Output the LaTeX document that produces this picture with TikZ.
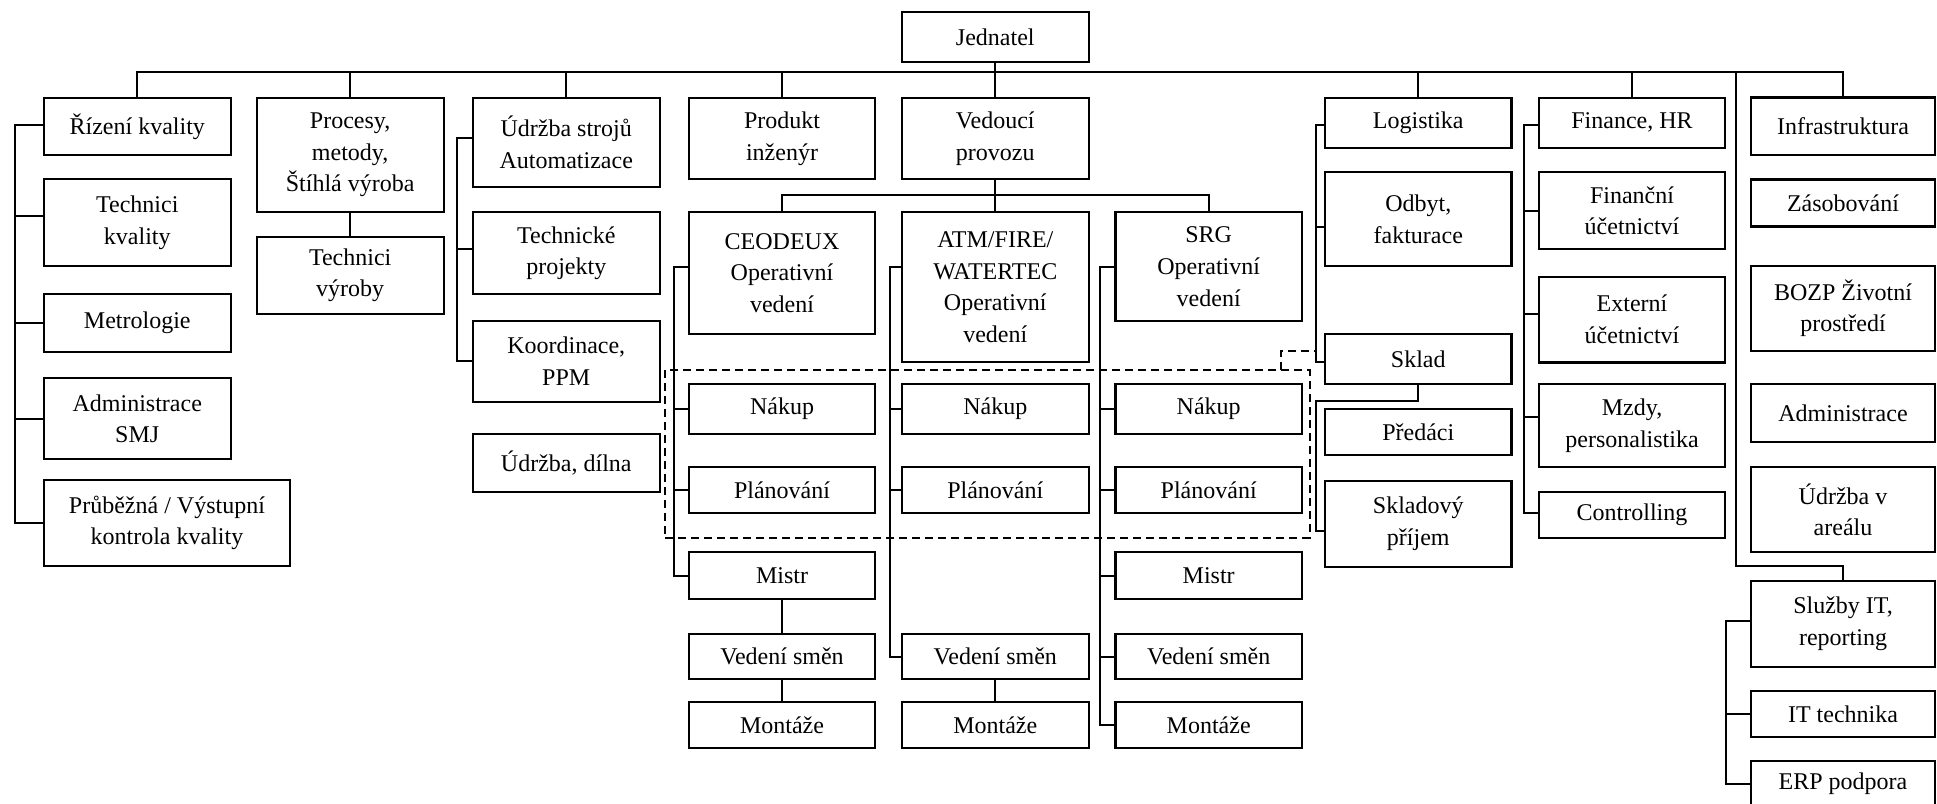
\documentclass[tikz,border=0pt]{standalone}
\usepackage{fontspec}
\setmainfont{Liberation Serif}
\usetikzlibrary{calc}
\tikzset{
  box/.style={draw, line width=1.1pt, inner sep=0pt, outer sep=0pt, align=center,
    font=\fontsize{12}{15.85}\selectfont},
  conn/.style={line width=1pt},
  grpbox/.style={draw, line width=1pt, dash pattern=on 4pt off 2.5pt, inner sep=0pt, outer sep=0pt},
  dline/.style={line width=1pt, dash pattern=on 4pt off 2.5pt}
}
\newcommand\mybox[6]{\node[box, minimum width={(#4-#2)*0.5pt}, minimum height={(#5-#3)*0.5pt}] (#1) at ({(#2+#4)/2},{(#3+#5)/2}) {#6};}
\begin{document}
\begin{tikzpicture}[x=0.5pt,y=-0.5pt]
\clip (0,0) rectangle (1937,803);
% top
\mybox{jed}{902}{11.7}{1088.6}{62}{Jednatel}
% column 1
\mybox{riz}{43.7}{97.7}{230.8}{155.3}{Řízení kvality}
\mybox{tk}{43.7}{179.3}{230.8}{265.7}{Technici\\kvality}
\mybox{met}{43.7}{294}{230.8}{351.7}{Metrologie}
\mybox{adm}{43.7}{378.3}{230.8}{459}{Administrace\\SMJ}
\mybox{pru}{43.7}{480}{290.2}{566}{Průběžná / Výstupní\\kontrola kvality}
% column 2
\mybox{pro}{256.7}{97.7}{443.7}{212.3}{Procesy,\\metody,\\Štíhlá výroba}
\mybox{tv}{256.7}{236.7}{443.7}{314}{Technici\\výroby}
% column 3
\mybox{uds}{472.7}{97.7}{659.8}{186.7}{Údržba strojů\\Automatizace}
\mybox{tp}{472.7}{212.3}{659.8}{294}{Technické\\projekty}
\mybox{koo}{472.7}{321}{659.8}{401.7}{Koordinace,\\PPM}
\mybox{udd}{472.7}{434.3}{659.8}{491.7}{Údržba, dílna}
% column 4
\mybox{prod}{688.7}{97.7}{875.3}{179.3}{Produkt\\inženýr}
\mybox{ceo}{688.7}{212.3}{875.3}{334}{CEODEUX\\Operativní\\vedení}
\mybox{nak1}{688.7}{384}{875.3}{434.3}{Nákup}
\mybox{pla1}{688.7}{467.3}{875.3}{513.3}{Plánování}
\mybox{mis1}{688.7}{552}{875.3}{599.3}{Mistr}
\mybox{vs1}{688.7}{634}{875.3}{679.3}{Vedení směn}
\mybox{mon1}{688.7}{702.3}{875.3}{748.3}{Montáže}
% column 5
\mybox{ved}{902}{97.7}{1088.6}{179.3}{Vedoucí\\provozu}
\mybox{atm}{902}{212.3}{1088.6}{362.3}{ATM/FIRE/\\WATERTEC\\Operativní\\vedení}
\mybox{nak2}{902}{384}{1088.6}{434.3}{Nákup}
\mybox{pla2}{902}{467.3}{1088.6}{513.3}{Plánování}
\mybox{vs2}{902}{634}{1088.6}{679.3}{Vedení směn}
\mybox{mon2}{902}{702.3}{1088.6}{748.3}{Montáže}
% column 6
\mybox{srg}{1115.4}{212.3}{1302}{321.3}{SRG\\Operativní\\vedení}
\mybox{nak3}{1115.4}{384}{1302}{434.3}{Nákup}
\mybox{pla3}{1115.4}{467.3}{1302}{513.3}{Plánování}
\mybox{mis3}{1115.4}{552}{1302}{599.3}{Mistr}
\mybox{vs3}{1115.4}{634}{1302}{679.3}{Vedení směn}
\mybox{mon3}{1115.4}{702.3}{1302}{748.3}{Montáže}
% column 7
\mybox{log}{1325}{97.7}{1511.5}{147.7}{Logistika}
\mybox{odb}{1325}{172.3}{1511.5}{265.7}{Odbyt,\\fakturace}
\mybox{skl}{1325}{334}{1511.5}{384}{Sklad}
\mybox{pre}{1325}{409}{1511.5}{455}{Předáci}
\mybox{skp}{1325}{480.7}{1511.5}{566.7}{Skladový\\příjem}
% column 8
\mybox{fin}{1539}{97.7}{1725}{147.7}{Finance, HR}
\mybox{fu}{1539}{172.3}{1725}{249.3}{Finanční\\účetnictví}
\mybox{ext}{1539}{276.7}{1725}{362.5}{Externí\\účetnictví}
\mybox{mzd}{1539}{384.3}{1725}{467.3}{Mzdy,\\personalistika}
\mybox{con}{1539}{491.7}{1725}{537.7}{Controlling}
% column 9
\mybox{inf}{1751}{97.5}{1935}{155}{Infrastruktura}
\mybox{zas}{1751}{179.5}{1935}{226.5}{Zásobování}
\mybox{boz}{1751}{265.7}{1935}{351}{BOZP Životní\\prostředí}
\mybox{adm2}{1751}{384.3}{1935}{441.7}{Administrace}
\mybox{uda}{1751}{467.3}{1935}{552.3}{Údržba v\\areálu}
\mybox{sit}{1751}{580.7}{1935}{667.3}{Služby IT,\\reporting}
\mybox{itt}{1751}{691.3}{1935}{736.7}{IT technika}
\mybox{erp}{1751}{760.7}{1935}{806.7}{ERP podpora}
% dashed group
\node[grpbox, minimum width={(1309.5-665.4)*0.5pt}, minimum height={(537.5-370)*0.5pt}] (grp) at ({(665.4+1309.5)/2},{(370+537.5)/2}) {};

% main bus
\coordinate (bus) at (995.3,72);
\draw[conn] (riz.north) |- (bus) -| (inf.north);
\draw[conn] (jed.south) -- (ved.north);
\foreach \n in {pro,uds,prod,log,fin} \draw[conn] (\n.north) -- (\n.north |- bus);
\coordinate (itx) at (1736,72);
\draw[conn] (itx) -- ++(0,494) -| (sit.north);

% column 1 comb
\draw[conn] ($(riz.west)+(0,-1.5)$) -- ++(-29,0) |- (pru.west);
\draw[conn] ($(tk.west)+(0,-7)$) -- ++(-29,0);
\foreach \n in {met,adm} \draw[conn] (\n.west) -- ++(-29,0);
% column 2
\draw[conn] (pro.south) -- (tv.north);
% column 3
\draw[conn] ($(uds.west)+(0,-4.5)$) -- ++(-16,0) |- (koo.west);
\draw[conn] ($(tp.west)+(0,-4)$) -- ++(-16,0);
% Vedouci sub-bus
\draw[conn] (ved.south) -- ++(0,15.7) coordinate (sb);
\draw[conn] (ceo.north) |- (sb) -| (srg.north);
\draw[conn] (sb) -- (atm.north);
% CEODEUX column
\draw[conn] (ceo.west |- srg.west) -- ++(-14.3,0) |- (mis1.west);
\foreach \n in {nak1,pla1} \draw[conn] (\n.west) -- ++(-14.3,0);
\draw[conn] (mis1.south) -- (vs1.north);
\draw[conn] (vs1.south) -- (mon1.north);
% ATM column
\draw[conn] (atm.west |- srg.west) -- ++(-11.6,0) |- (vs2.west);
\foreach \n in {nak2,pla2} \draw[conn] (\n.west) -- ++(-11.6,0);
\draw[conn] (vs2.south) -- (mon2.north);
% SRG column
\draw[conn] (srg.west) -- ++(-15.2,0) |- (mon3.west);
\foreach \n in {nak3,pla3,mis3,vs3} \draw[conn] (\n.west) -- ++(-15.2,0);
% Logistika column
\draw[conn] ($(log.west)+(0,2.3)$) -- ++(-9,0) coordinate (lgx) |- ($(skl.west)+(0,3)$);
\draw[conn] ($(odb.west)+(0,7.7)$) -- ++(-9,0);
\draw[conn] (skl.south) -- ++(0,17) -| ($(skp.west)+(-9,7)$) -- ($(skp.west)+(0,7)$);
\draw[dline] ($(grp.north east)+(-29,0)$) |- ($(lgx)+(0,226)$);
% Finance column
\draw[conn] ($(fin.west)+(0,2.3)$) -- ++(-15.5,0) |- ($(con.west)+(0,-1.4)$);
\draw[conn] (fu.west) -- ++(-15.5,0);
\draw[conn] ($(ext.west)+(0,-5.6)$) -- ++(-15.5,0);
\draw[conn] ($(mzd.west)+(0,-8.5)$) -- ++(-15.5,0);
% IT column
\draw[conn] ($(sit.west)+(0,-3)$) -- ++(-25.5,0) |- (erp.west);
\draw[conn] (itt.west) -- ++(-25.5,0);
\end{tikzpicture}
\end{document}
